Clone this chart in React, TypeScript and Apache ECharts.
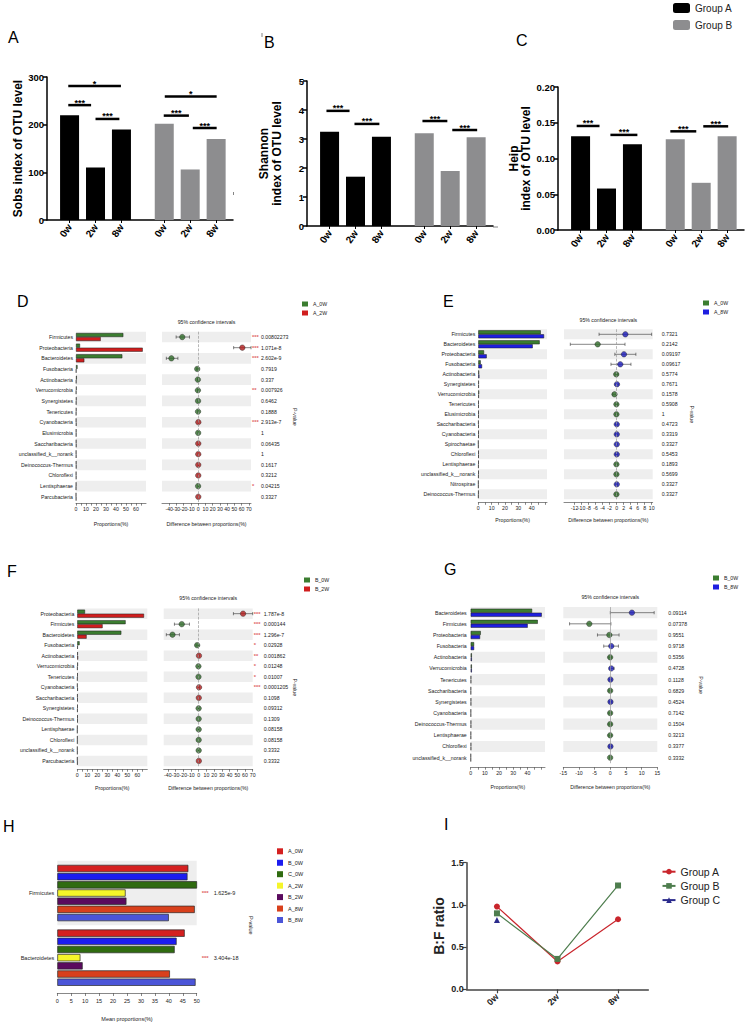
import React, { useEffect, useRef } from "react";
import * as echarts from "echarts";

// ================= Panels A–C : alpha diversity =================
const weekLabels = ["0w", "2w", "8w"];
const sobsGroupA = [220, 110, 190];
const sobsGroupB = [202, 106, 170];
const shannonGroupA = [3.25, 1.7, 3.08];
const shannonGroupB = [3.2, 1.9, 3.06];
const heipGroupA = [0.131, 0.058, 0.12];
const heipGroupB = [0.127, 0.066, 0.131];
// significance brackets: [from, to, height, stars]
const sobsSig: [number, number, number, string][] = [
  [-0.05, 1.98, 281, "*"], [-0.05, 0.83, 241, "***"], [1.0, 1.92, 212, "***"],
  [3.67, 5.67, 259, "*"], [3.63, 4.6, 219, "***"], [4.75, 5.67, 193, "***"],
];
const shannonSig: [number, number, number, string][] = [
  [-0.12, 0.77, 3.97, "***"], [0.96, 1.92, 3.52, "***"],
  [3.58, 4.54, 3.62, "***"], [4.73, 5.69, 3.31, "***"],
];
const heipSig: [number, number, number, string][] = [
  [-0.15, 0.73, 0.1455, "***"], [1.15, 2.19, 0.133, "***"],
  [3.46, 4.46, 0.138, "***"], [4.73, 5.69, 0.145, "***"],
];

// ================= Panel D : A_0W vs A_2W =================
const dCats = ["Firmicutes", "Proteobacteria", "Bacteroidetes", "Fusobacteria", "Actinobacteria", "Verrucomicrobia", "Synergistetes", "Tenericutes", "Cyanobacteria", "Elusimicrobia", "Saccharibacteria", "unclassified_k__norank", "Deinococcus-Thermus", "Chloroflexi", "Lentisphaerae", "Parcubacteria"];
const dA0 = [47.3, 4.0, 46.3, 1.5, 0.8, 0.6, 0.5, 0.4, 0.2, 0.3, 0.3, 0.2, 0.3, 0.2, 0.2, 0.05];
const dA2 = [24.7, 66.7, 8.3, 0.3, 0.3, 0.2, 0.3, 0.2, 0.4, 0.3, 0.4, 0.3, 0.4, 0.3, 0.05, 0.2];
const dDiff = [-22, 61, -37, -1.3, -0.5, -0.4, -0.2, -0.2, 0.2, -0.05, 0.1, 0.1, 0.1, 0.1, -0.15, 0.15];
const dLow = [-30.5, 49, -44, -2.2, -1.0, -0.8, -0.5, -0.5, -0.1, -0.3, -0.3, -0.3, -0.3, -0.3, -0.3, -0.1];
const dHigh = [-12, 73, -28, -0.4, 0.0, 0.0, 0.1, 0.1, 0.5, 0.3, 0.4, 0.4, 0.4, 0.4, 0.0, 0.4];
const dP = ["0.00802273", "1.071e-8", "2.602e-9", "0.7919", "0.337", "0.007926", "0.6462", "0.1888", "2.913e-7", "1", "0.06435", "1", "0.1617", "0.3212", "0.04215", "0.3327"];
const dStars = ["***", "***", "***", "", "", "**", "", "", "***", "", "", "", "", "", "*", ""];
const dDiffTicks = [-50, -40, -30, -20, -10, 0, 10, 20, 30, 40, 50, 60, 70];

// ================= Panel E : A_0W vs A_8W =================
const eCats = ["Firmicutes", "Bacteroidetes", "Proteobacteria", "Fusobacteria", "Actinobacteria", "Synergistetes", "Verrucomicrobia", "Tenericutes", "Elusimicrobia", "Saccharibacteria", "Cyanobacteria", "Spirochaetae", "Chloroflexi", "Lentisphaerae", "unclassified_k__norank", "Nitrospirae", "Deinococcus-Thermus"];
const eA0 = [46.8, 46.0, 4.3, 1.8, 0.6, 0.4, 0.6, 0.3, 0.3, 0.2, 0.3, 0.05, 0.3, 0.3, 0.3, 0.1, 0.2];
const eA8 = [49.3, 40.8, 6.3, 2.8, 0.8, 0.4, 0.4, 0.3, 0.3, 0.3, 0.3, 0.1, 0.3, 0.2, 0.2, 0.1, 0.1];
const eDiff = [2.5, -5.4, 2.1, 1.05, -0.1, 0.1, -0.6, -0.05, -0.05, 0.05, 0.05, 0.05, 0.05, -0.05, -0.05, 0.05, -0.05];
const eLow = [-5.0, -13.2, -0.5, -1.6, -0.5, -0.4, -1.1, -0.4, -0.4, -0.3, -0.3, -0.2, -0.3, -0.4, -0.4, -0.2, -0.4];
const eHigh = [10.0, 2.4, 5.5, 4.1, 0.4, 0.6, -0.1, 0.3, 0.3, 0.4, 0.4, 0.3, 0.4, 0.3, 0.3, 0.3, 0.3];
const eP = ["0.7321", "0.2142", "0.09197", "0.09617", "0.5774", "0.7671", "0.1578", "0.5908", "1", "0.4723", "0.3319", "0.3327", "0.5453", "0.1893", "0.5699", "0.3327", "0.3327"];
const eStars = eP.map(() => "");
const eDiffTicks = [-14, -12, -10, -8, -6, -4, -2, 0, 2, 4, 6, 8, 10];

// ================= Panel F : B_0W vs B_2W =================
const fCats = ["Proteobacteria", "Firmicutes", "Bacteroidetes", "Fusobacteria", "Actinobacteria", "Verrucomicrobia", "Tenericutes", "Cyanobacteria", "Saccharibacteria", "Synergistetes", "Deinococcus-Thermus", "Lentisphaerae", "Chloroflexi", "unclassified_k__norank", "Parcubacteria"];
const fB0 = [7.7, 48.3, 44.0, 2.3, 0.5, 0.6, 0.4, 0.1, 0.3, 0.4, 0.4, 0.1, 0.1, 0.05, 0.05];
const fB2 = [66.7, 25.3, 9.3, 0.5, 0.8, 0.2, 0.1, 0.5, 0.4, 0.3, 0.4, 0.05, 0.1, 0.1, 0.2];
const fDiff = [57.5, -22, -34, -2.0, 0.3, -0.4, -0.3, 0.4, 0.1, -0.1, -0.05, -0.05, -0.05, -0.05, 0.15];
const fLow = [45, -31.5, -42, -3.5, -0.2, -0.8, -0.6, 0.1, -0.3, -0.5, -0.5, -0.2, -0.2, -0.2, -0.1];
const fHigh = [70, -12, -25, -0.5, 0.8, 0.0, 0.0, 0.7, 0.5, 0.3, 0.4, 0.1, 0.1, 0.1, 0.4];
const fP = ["1.787e-8", "0.000144", "1.296e-7", "0.02928", "0.001862", "0.01248", "0.01007", "0.0001205", "0.1098", "0.09312", "0.1309", "0.08158", "0.08158", "0.3332", "0.3332"];
const fStars = ["***", "***", "***", "*", "**", "*", "*", "***", "", "", "", "", "", "", ""];
const fDiffTicks = [-40, -30, -20, -10, 0, 10, 20, 30, 40, 50, 60, 70];

// ================= Panel G : B_0W vs B_8W =================
const gCats = ["Bacteroidetes", "Firmicutes", "Proteobacteria", "Fusobacteria", "Actinobacteria", "Verrucomicrobia", "Tenericutes", "Saccharibacteria", "Synergistetes", "Cyanobacteria", "Deinococcus-Thermus", "Lentisphaerae", "Chloroflexi", "unclassified_k__norank"];
const gB0 = [43.3, 47.3, 7.1, 2.4, 0.8, 0.8, 0.3, 0.2, 0.3, 0.2, 0.3, 0.2, 0.3, 0.1];
const gB8 = [50.1, 40.2, 6.6, 2.4, 0.8, 0.8, 0.3, 0.2, 0.3, 0.2, 0.3, 0.2, 0.3, 0.1];
const gDiff = [6.9, -6.7, -0.3, 0.3, -0.05, 0.3, 0.05, -0.05, 0.05, -0.05, -0.05, -0.05, 0.05, -0.05];
const gLow = [0.0, -13.0, -4.1, -2.1, -0.5, -0.2, -0.4, -0.5, -0.4, -0.5, -0.5, -0.5, -0.4, -0.3];
const gHigh = [14.0, 0.2, 2.8, 2.6, 0.4, 1.2, 0.5, 0.4, 0.5, 0.4, 0.4, 0.4, 0.5, 0.2];
const gP = ["0.09114", "0.07378", "0.9551", "0.9718", "0.5356", "0.4728", "0.1128", "0.6829", "0.4524", "0.7142", "0.1504", "0.3213", "0.3377", "0.3332"];
const gStars = gP.map(() => "");
const gDiffTicks = [-15, -10, -5, 0, 5, 10, 15];

// ================= Panel H : mean proportions =================
const hCats = ["Firmicutes", "Bacteroidetes"];
const hGroups = ["A_0W", "B_0W", "C_0W", "A_2W", "B_2W", "A_8W", "B_8W"];
const hA0W = [47.0, 45.7];
const hB0W = [46.7, 42.8];
const hC0W = [50.4, 42.1];
const hA2W = [24.5, 8.3];
const hB2W = [24.8, 9.1];
const hA8W = [49.3, 40.4];
const hB8W = [40.0, 49.6];
const hP = ["1.625e-9", "3.404e-18"];
const hStars = ["***", "***"];

// ================= Panel I : B:F ratio =================
const iGroupA = [0.98, 0.33, 0.83];
const iGroupB = [0.9, 0.36, 1.23];
const iGroupC = [0.82, null, null];

// ---------------- styling / layout ----------------
const FONT = "'Liberation Sans', Arial, sans-serif";
const SMALL = 5.2;
const INK = "#222";
const SLOT_A = [0, 1, 2];
const SLOT_B = [3.65, 4.65, 5.65];
const GREEN = "#3b7d30";
const RED = "#d01e1e";
const BLUE = "#1e1ee0";
const DOT_GREEN = "#2e6a28";
const DOT_RED = "#b01a1a";
const DOT_BLUE = "#1a1ab8";

function alphaPanel(o: any, c: any) {
  const g = o.grid.length;
  const xi = o.xAxis.length;
  const yi = o.yAxis.length;
  const slots = [...SLOT_A, ...SLOT_B];
  o.grid.push({ left: c.left, top: c.top, width: c.width, height: c.height });
  o.xAxis.push({
    type: "value", gridIndex: g, min: -0.87, max: 6.3,
    axisLine: { show: true, onZero: false, lineStyle: { color: "#000", width: 1.5 } },
    axisTick: { show: true, customValues: slots, length: 3, lineStyle: { color: "#000", width: 1 } },
    axisLabel: {
      customValues: slots, rotate: 55, fontWeight: "bold", fontSize: 10, color: "#000", fontFamily: FONT, margin: 5,
      formatter: (v: number) => {
        const k = slots.findIndex((p) => Math.abs(p - v) < 1e-6);
        return k < 0 ? "" : weekLabels[k % 3];
      },
    },
    splitLine: { show: false },
  });
  o.yAxis.push({
    type: "value", gridIndex: g, min: 0, max: c.ymax, interval: c.interval,
    axisLine: { show: true, onZero: false, lineStyle: { color: "#000", width: 1.5 } },
    axisTick: { show: true, length: 4, lineStyle: { color: "#000", width: 1.5 } },
    axisLabel: { fontWeight: "bold", fontSize: 9.5, color: "#000", fontFamily: FONT, margin: 3, formatter: (v: number) => v.toFixed(c.decimals) },
    splitLine: { show: false },
    name: c.name, nameLocation: "middle", nameRotate: 90, nameGap: c.nameGap,
    nameTextStyle: { fontWeight: "bold", fontSize: 12, color: "#000", fontFamily: FONT, lineHeight: 12.5 },
  });
  o.series.push({
    type: "bar", name: "Group A", xAxisIndex: xi, yAxisIndex: yi, barWidth: 19, barGap: "-100%",
    data: c.a.map((v: number, i: number) => [SLOT_A[i], v]), itemStyle: { color: "#000" },
  });
  o.series.push({
    type: "bar", name: "Group B", xAxisIndex: xi, yAxisIndex: yi, barWidth: 19, barGap: "-100%",
    data: c.b.map((v: number, i: number) => [SLOT_B[i], v]), itemStyle: { color: "#8d8d8f" },
  });
  const sig = c.sig;
  o.series.push({
    type: "custom", xAxisIndex: xi, yAxisIndex: yi, z: 5, silent: true,
    data: sig.map((s: any) => [s[0], s[1], s[2]]),
    encode: { x: [0, 1], y: 2 },
    renderItem: (params: any, api: any) => {
      const a = api.coord([api.value(0), api.value(2)]);
      const b = api.coord([api.value(1), api.value(2)]);
      return {
        type: "group",
        children: [
          { type: "line", shape: { x1: a[0], y1: a[1], x2: b[0], y2: b[1] }, style: { stroke: "#000", lineWidth: 2.5 } },
          {
            type: "text", x: (a[0] + b[0]) / 2, y: a[1] + 2,
            style: { text: sig[params.dataIndex][3], fill: "#000", font: `bold 9px ${FONT}`, align: "center", verticalAlign: "bottom" },
          },
        ],
      };
    },
  });
}

const errRender = (_params: any, api: any) => {
  const a = api.coord([api.value(0), api.value(2)]);
  const b = api.coord([api.value(1), api.value(2)]);
  const cap = 1.6;
  const st = { stroke: "#333", lineWidth: 0.6 };
  return {
    type: "group",
    children: [
      { type: "line", shape: { x1: a[0], y1: a[1], x2: b[0], y2: b[1] }, style: st },
      { type: "line", shape: { x1: a[0], y1: a[1] - cap, x2: a[0], y2: a[1] + cap }, style: st },
      { type: "line", shape: { x1: b[0], y1: b[1] - cap, x2: b[0], y2: b[1] + cap }, style: st },
    ],
  };
};

function stampPanel(o: any, s: any) {
  const g = o.grid.length;
  const x0 = o.xAxis.length;
  const y0 = o.yAxis.length;
  const h = s.cats.length * s.rowH;
  o.grid.push({ left: s.left, top: s.top, width: s.leftWidth, height: h });
  o.grid.push({ left: s.right, top: s.top, width: s.rightWidth, height: h });
  const line = { show: true, onZero: false, lineStyle: { color: "#555", width: 0.7 } };
  const tick = { show: true, length: 2.5, lineStyle: { color: "#555", width: 0.7 } };
  const lab = { fontSize: SMALL, color: INK, fontFamily: FONT, margin: 3 };
  const nameStyle = { fontSize: SMALL, color: INK, fontFamily: FONT };
  const hidden = { show: false, onZero: false };
  o.xAxis.push({
    type: "value", gridIndex: g, min: 0, max: s.leftMax, offset: s.axisOffset,
    axisLine: line, axisTick: { ...tick, customValues: s.leftTicks },
    axisLabel: { ...lab, customValues: s.leftLabels }, splitLine: { show: false },
    name: "Proportions(%)", nameLocation: "middle", nameGap: s.nameGap, nameTextStyle: nameStyle,
  });
  o.xAxis.push({
    type: "value", gridIndex: g + 1, min: s.rightMin, max: s.rightMax, offset: s.axisOffset,
    axisLine: line, axisTick: { ...tick, customValues: s.rightTicks },
    axisLabel: { ...lab, customValues: s.rightTicks, hideOverlap: false }, splitLine: { show: false },
    name: "Difference between proportions(%)", nameLocation: "middle", nameGap: s.nameGap, nameTextStyle: nameStyle,
  });
  const band = { show: true, interval: 0, areaStyle: { color: ["#eeeeee", "rgba(255,255,255,0)"] } };
  o.yAxis.push({
    type: "category", gridIndex: g, data: s.cats, inverse: true,
    axisLine: hidden, axisTick: { show: false },
    axisLabel: { interval: 0, fontSize: SMALL, color: INK, fontFamily: FONT, margin: s.catMargin },
    splitArea: band,
  });
  o.yAxis.push({
    type: "category", gridIndex: g + 1, data: s.cats, inverse: true,
    axisLine: hidden, axisTick: { show: false }, axisLabel: { show: false }, splitArea: band,
  });
  o.yAxis.push({
    type: "category", gridIndex: g + 1, data: s.cats, inverse: true, position: "right",
    axisLine: hidden, axisTick: { show: false },
    axisLabel: {
      interval: 0, margin: s.pMargin,
      formatter: (_v: any, i: number) => `{s|${s.stars[i] || "\u00a0"}}{p|${s.p[i]}}`,
      rich: {
        s: { width: s.starWidth, color: "#e06464", fontSize: SMALL + 0.5, fontFamily: FONT, fontWeight: "bold" },
        p: { fontSize: SMALL, color: INK, fontFamily: FONT },
      },
    },
    name: "P-value", nameLocation: "middle", nameRotate: -90, nameGap: s.pNameGap, nameTextStyle: nameStyle,
  });
  [s.g1, s.g2].forEach((vals: number[], k: number) =>
    o.series.push({
      type: "bar", name: s.names[k], xAxisIndex: x0, yAxisIndex: y0, data: vals,
      barWidth: 4, barGap: "0%",
      itemStyle: { color: s.barColors[k], borderColor: "#1a1a1a", borderWidth: 0.5 },
    })
  );
  o.series.push({
    type: "custom", xAxisIndex: x0 + 1, yAxisIndex: y0 + 1, z: 2, silent: true,
    data: s.lo.map((l: number, i: number) => [l, s.hi[i], i]),
    encode: { x: [0, 1], y: 2 }, renderItem: errRender,
  });
  o.series.push({
    type: "scatter", xAxisIndex: x0 + 1, yAxisIndex: y0 + 1, symbolSize: 5.5, z: 3,
    data: s.diff.map((d: number, i: number) => ({ value: [d, i], itemStyle: { color: d < 0 ? s.dotColors[0] : s.dotColors[1] } })),
    itemStyle: { borderColor: "#222", borderWidth: 0.5 },
    markLine: {
      silent: true, symbol: ["none", "none"], label: { show: false },
      lineStyle: { color: "#999", width: 0.7, type: s.dashed ? "dashed" : "solid" },
      emphasis: { disabled: true },
      data: [{ xAxis: 0 }],
    },
  });
  o.legend.push({
    left: s.legLeft, top: s.legTop, orient: "vertical", icon: "rect", padding: 0,
    itemWidth: 6, itemHeight: 5, itemGap: 4,
    itemStyle: { borderWidth: 0 },
    data: s.names, formatter: (n: string) => n.trim(),
    textStyle: { fontSize: SMALL, color: INK, fontFamily: FONT, lineHeight: 5 },
  });
  o.graphic.push({
    type: "text", x: s.right + s.rightWidth / 2, y: s.ciY,
    style: { text: "95% confidence intervals", fill: INK, font: `${SMALL}px ${FONT}`, align: "center", verticalAlign: "middle" },
  });
}

function buildOption() {
  const o: any = {
    animation: false,
    backgroundColor: "#fff",
    textStyle: { fontFamily: FONT },
    grid: [], xAxis: [], yAxis: [], series: [], legend: [], graphic: [],
  };

  alphaPanel(o, { left: 47, top: 77, width: 186, height: 143, ymax: 300, interval: 100, decimals: 0, name: "Sobs index of OTU level", nameGap: 21, a: sobsGroupA, b: sobsGroupB, sig: sobsSig });
  alphaPanel(o, { left: 307, top: 81, width: 186, height: 145, ymax: 5, interval: 1, decimals: 0, name: "Shannon\nindex of OTU level", nameGap: 24, a: shannonGroupA, b: shannonGroupB, sig: shannonSig });
  alphaPanel(o, { left: 558, top: 87, width: 186, height: 143, ymax: 0.2, interval: 0.05, decimals: 2, name: "Heip\nindex of OTU level", nameGap: 25, a: heipGroupA, b: heipGroupB, sig: heipSig });
  o.legend.push({
    left: 673, top: 3, orient: "vertical", icon: "roundRect", itemWidth: 17, itemHeight: 10, itemGap: 7, padding: 0,
    data: ["Group A", "Group B"], textStyle: { fontSize: 10, color: "#222", fontFamily: FONT, lineHeight: 10 },
  });

  stampPanel(o, {
    cats: dCats, g1: dA0, g2: dA2, names: ["A_0W", "A_2W"], diff: dDiff, lo: dLow, hi: dHigh, p: dP, stars: dStars,
    barColors: [GREEN, RED], dotColors: [DOT_GREEN, DOT_RED], dashed: true,
    top: 331.7, rowH: 10.65, axisOffset: 1, nameGap: 18,
    left: 76, leftWidth: 70, leftMax: 70, leftTicks: [0, 5, 10, 15, 20, 25, 30, 35, 40, 45, 50, 55, 60, 65], leftLabels: [0, 10, 20, 30, 40, 50, 60],
    right: 162, rightWidth: 89, rightMin: -50, rightMax: 73, rightTicks: dDiffTicks,
    catMargin: 3, pMargin: 1, starWidth: 9, pNameGap: 38, legLeft: 302, legTop: 301.5, ciY: 322,
  });
  stampPanel(o, {
    cats: eCats, g1: eA0, g2: eA8, names: ["A_0W", "A_8W"], diff: eDiff, lo: eLow, hi: eHigh, p: eP, stars: eStars,
    barColors: [GREEN, BLUE], dotColors: [DOT_GREEN, DOT_BLUE], dashed: true,
    top: 329.3, rowH: 10, axisOffset: 3, nameGap: 15.5,
    left: 478.3, leftWidth: 68.7, leftMax: 51.5, leftTicks: [0, 5, 10, 15, 20, 25, 30, 35, 40, 45, 50], leftLabels: [0, 10, 20, 30, 40],
    right: 564, rightWidth: 88.7, rightMin: -15, rightMax: 10.3, rightTicks: eDiffTicks,
    catMargin: 3, pMargin: 1, starWidth: 8, pNameGap: 37, legLeft: 703, legTop: 300.5, ciY: 320,
  });
  stampPanel(o, {
    cats: fCats, g1: fB0, g2: fB2, names: ["B_0W", "B_2W"], diff: fDiff, lo: fLow, hi: fHigh, p: fP, stars: fStars,
    barColors: [GREEN, RED], dotColors: [DOT_GREEN, DOT_RED], dashed: true,
    top: 608.4, rowH: 10.52, axisOffset: 3, nameGap: 16,
    left: 77.3, leftWidth: 70, leftMax: 70, leftTicks: [0, 5, 10, 15, 20, 25, 30, 35, 40, 45, 50, 55, 60, 65], leftLabels: [0, 10, 20, 30, 40, 50, 60],
    right: 163.7, rightWidth: 89, rightMin: -45.4, rightMax: 70, rightTicks: fDiffTicks,
    catMargin: 3, pMargin: 1, starWidth: 10, pNameGap: 38, legLeft: 304, legTop: 577.5, ciY: 598,
  });
  stampPanel(o, {
    cats: gCats, g1: gB0, g2: gB8, names: ["B_0W", "B_8W"], diff: gDiff, lo: gLow, hi: gHigh, p: gP, stars: gStars,
    barColors: [GREEN, BLUE], dotColors: [DOT_GREEN, DOT_BLUE], dashed: false,
    top: 607.1, rowH: 11.15, axisOffset: 4, nameGap: 17,
    left: 470.7, leftWidth: 74.3, leftMax: 52.4, leftTicks: [0, 5, 10, 15, 20, 25, 30, 35, 40, 45, 50], leftLabels: [0, 10, 20, 30, 40],
    right: 563.3, rightWidth: 94, rightMin: -15, rightMax: 15, rightTicks: gDiffTicks,
    catMargin: 4, pMargin: 1, starWidth: 10, pNameGap: 41, legLeft: 713, legTop: 575.5, ciY: 597,
  });

  // ---------- Panel H ----------
  {
    const g = o.grid.length;
    const x0 = o.xAxis.length;
    const y0 = o.yAxis.length;
    o.grid.push({ left: 57.3, top: 860.7, width: 139.4, height: 129.3 });
    o.xAxis.push({
      type: "value", gridIndex: g, min: 0, max: 50, interval: 5, offset: 3,
      axisLine: { show: true, onZero: false, lineStyle: { color: "#555", width: 0.7 } },
      axisTick: { show: true, length: 3, lineStyle: { color: "#555", width: 0.7 } },
      axisLabel: { fontSize: 5.5, color: INK, fontFamily: FONT, margin: 5 },
      splitLine: { show: false },
      name: "Mean proportions(%)", nameLocation: "middle", nameGap: 23,
      nameTextStyle: { fontSize: 5.5, color: INK, fontFamily: FONT },
    });
    o.yAxis.push({
      type: "category", gridIndex: g, data: hCats, inverse: true,
      axisLine: { show: false, onZero: false }, axisTick: { show: false },
      axisLabel: { interval: 0, fontSize: 5.5, color: INK, fontFamily: FONT, margin: 3 },
      splitArea: { show: true, interval: 0, areaStyle: { color: ["#eeeeee", "rgba(255,255,255,0)"] } },
    });
    o.yAxis.push({
      type: "category", gridIndex: g, data: hCats, inverse: true, position: "right",
      axisLine: { show: false, onZero: false }, axisTick: { show: false },
      axisLabel: {
        interval: 0, margin: 5,
        formatter: (_v: any, i: number) => `{s|${hStars[i]}}{p|${hP[i]}}`,
        rich: {
          s: { width: 12, color: "#e06464", fontSize: 6, fontFamily: FONT, fontWeight: "bold" },
          p: { fontSize: 5.5, color: INK, fontFamily: FONT },
        },
      },
      name: "P-value", nameLocation: "middle", nameRotate: -90, nameGap: 51,
      nameTextStyle: { fontSize: 5.5, color: INK, fontFamily: FONT },
    });
    const hVals = [hA0W, hB0W, hC0W, hA2W, hB2W, hA8W, hB8W];
    const hColors = ["#d42020", "#1c1cf0", "#2f6b10", "#f5f52a", "#5a0a5e", "#d8401c", "#4b55d8"];
    hGroups.forEach((nm, k) =>
      o.series.push({
        type: "bar", name: nm + " ", xAxisIndex: x0, yAxisIndex: y0, data: hVals[k],
        barWidth: 7.3, barGap: "12%",
        itemStyle: { color: hColors[k], borderColor: "#2a2a2a", borderWidth: 0.7 },
      })
    );
    o.legend.push({
      left: 277, top: 848.3, orient: "vertical", icon: "rect", itemWidth: 6, itemHeight: 6, itemGap: 5.45, padding: 0,
      itemStyle: { borderWidth: 0 },
      data: hGroups.map((n) => n + " "), formatter: (n: string) => n.trim(),
      textStyle: { fontSize: 5.5, color: INK, fontFamily: FONT, lineHeight: 6 },
    });
  }

  // ---------- Panel I ----------
  {
    const g = o.grid.length;
    const x0 = o.xAxis.length;
    const y0 = o.yAxis.length;
    o.grid.push({ left: 466.7, top: 862.7, width: 181.6, height: 126.6 });
    o.xAxis.push({
      type: "category", gridIndex: g, data: weekLabels, boundaryGap: true,
      axisLine: { show: true, onZero: false, lineStyle: { color: "#444", width: 1.5 } },
      axisTick: { show: true, alignWithLabel: true, length: 4, lineStyle: { color: "#444", width: 1.2 } },
      axisLabel: { rotate: 45, fontWeight: "bold", fontSize: 9, color: "#222", fontFamily: FONT, margin: 6 },
    });
    o.yAxis.push({
      type: "value", gridIndex: g, min: 0, max: 1.5, interval: 0.5,
      axisLine: { show: true, onZero: false, lineStyle: { color: "#444", width: 1.5 } },
      axisTick: { show: true, length: 4, lineStyle: { color: "#444", width: 1.2 } },
      axisLabel: { fontWeight: "bold", fontSize: 9, color: "#222", fontFamily: FONT, margin: 3, formatter: (v: number) => v.toFixed(1) },
      splitLine: { show: false },
      name: "B:F ratio", nameLocation: "middle", nameRotate: 90, nameGap: 21,
      nameTextStyle: { fontWeight: "bold", fontSize: 14, color: "#222", fontFamily: FONT },
    });
    const iSeries: [string, (number | null)[], string, string][] = [
      ["Group A ", iGroupA, "#c9252c", "circle"],
      ["Group B ", iGroupB, "#4e7d4e", "rect"],
      ["Group C ", iGroupC, "#2b2b8c", "triangle"],
    ];
    iSeries.forEach(([nm, vals, col, sym]) =>
      o.series.push({
        type: "line", name: nm, xAxisIndex: x0, yAxisIndex: y0, data: vals,
        symbol: sym, symbolSize: 6, showAllSymbol: true,
        lineStyle: { color: col, width: 1.2 }, itemStyle: { color: col },
      })
    );
    o.legend.push({
      left: 661.5, top: 865.7, orient: "vertical", itemWidth: 13, itemHeight: 7, itemGap: 2.2, padding: 0,
      data: iSeries.map((s) => s[0]), formatter: (n: string) => n.trim(),
      textStyle: { fontSize: 10.5, color: "#222", fontFamily: FONT, lineHeight: 12 },
    });
  }

  // ---------- panel letters ----------
  const letters: [string, number, number][] = [
    ["A", 8, 37], ["B", 264, 42], ["C", 516, 40], ["D", 17, 301], ["E", 443, 301],
    ["F", 7, 571], ["G", 444, 569], ["H", 3, 826], ["I", 444, 824],
  ];
  letters.forEach(([t, x, y]) =>
    o.graphic.push({
      type: "text", x, y,
      style: { text: t, fill: "#000", font: `16px ${FONT}`, align: "left", verticalAlign: "middle" },
    })
  );
  // small stray marks present in the source figure
  const strays: [number, number, number, number][] = [
    [262, 33, 262, 37], [233.5, 192, 233.5, 195], [493, 227, 498, 227],
  ];
  strays.forEach(([x1, y1, x2, y2]) =>
    o.graphic.push({ type: "line", shape: { x1, y1, x2, y2 }, style: { stroke: "#666", lineWidth: 0.8 } })
  );
  return o;
}

export default function App() {
  const ref = useRef<HTMLDivElement>(null);
  useEffect(() => {
    if (!ref.current) return;
    const chart = echarts.init(ref.current, undefined, { renderer: "svg" });
    chart.setOption(buildOption());
    return () => chart.dispose();
  }, []);
  return (
    <div
      ref={ref}
      style={{ position: "absolute", left: 0, top: 0, width: 750, height: 1025, background: "#fff" }}
    />
  );
}
